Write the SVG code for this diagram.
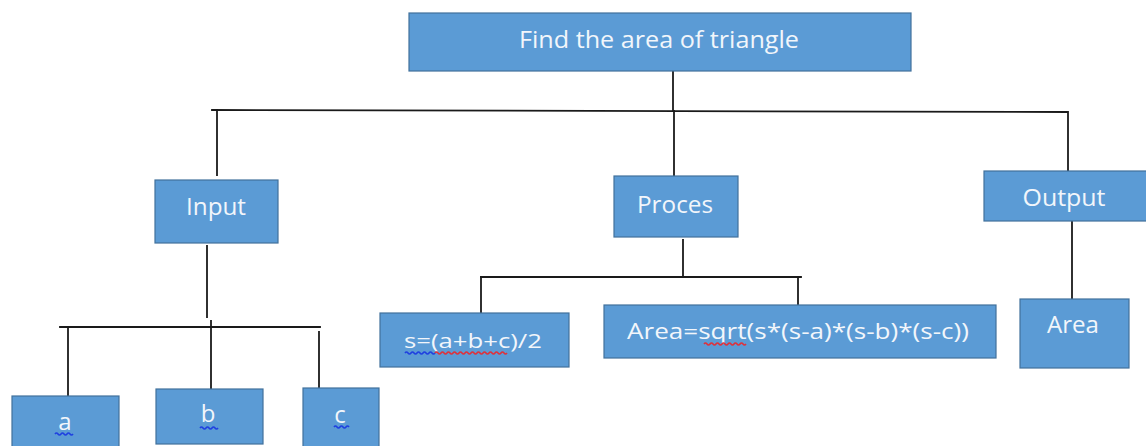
<svg xmlns="http://www.w3.org/2000/svg" width="1146" height="446" viewBox="0 0 1146 446">
  <style>
    .box { fill: #5b9bd5; stroke: #41719c; stroke-width: 1.2; }
    .lbl { fill: #f2f6fb; font-family: "Open Sans", "Liberation Sans", sans-serif; text-anchor: middle; }
    .wire { stroke: #1a1a1a; stroke-width: 1.8; fill: none; stroke-linecap: square; }
    .squig-b { stroke: #1f3fe0; stroke-width: 1.6; fill: none; }
    .squig-r { stroke: #e0303a; stroke-width: 1.6; fill: none; }
  </style>

  <!-- tree connectors -->
  <g id="connectors">
    <line class="wire" x1="673" y1="71" x2="673" y2="111"/>
    <line class="wire" x1="212" y1="110" x2="1067" y2="112"/>
    <line class="wire" x1="217" y1="110" x2="217" y2="175"/>
    <line class="wire" x1="674" y1="111" x2="674" y2="186"/>
    <line class="wire" x1="1068" y1="112" x2="1068" y2="180"/>

    <line class="wire" x1="207" y1="246" x2="207" y2="317"/>
    <line class="wire" x1="60" y1="327" x2="320" y2="327"/>
    <line class="wire" x1="68" y1="327" x2="68" y2="401"/>
    <line class="wire" x1="211" y1="321" x2="211" y2="391"/>
    <line class="wire" x1="319" y1="332" x2="319" y2="388"/>

    <line class="wire" x1="683" y1="240" x2="683" y2="276"/>
    <line class="wire" x1="481" y1="277" x2="801" y2="277"/>
    <line class="wire" x1="481" y1="277" x2="481" y2="322"/>
    <line class="wire" x1="798" y1="277" x2="798" y2="304"/>

    <line class="wire" x1="1072" y1="221" x2="1072" y2="305"/>
  </g>

  <g id="node-root">
    <rect class="box" x="409" y="13" width="502" height="58"/>
    <text class="lbl" x="659" y="48" font-size="23" textLength="280" lengthAdjust="spacingAndGlyphs">Find the area of triangle</text>
  </g>

  <g id="node-input">
    <rect class="box" x="155" y="180" width="123" height="63"/>
    <text class="lbl" x="216" y="215" font-size="23" textLength="60" lengthAdjust="spacingAndGlyphs">Input</text>
  </g>

  <g id="node-proces">
    <rect class="box" x="614" y="176" width="124" height="61"/>
    <text class="lbl" x="675" y="213" font-size="23" textLength="76" lengthAdjust="spacingAndGlyphs">Proces</text>
  </g>

  <g id="node-output">
    <rect class="box" x="984" y="171" width="164" height="50"/>
    <text class="lbl" x="1064" y="206" font-size="23" textLength="83" lengthAdjust="spacingAndGlyphs">Output</text>
  </g>

  <g id="node-a">
    <rect class="box" x="12" y="396" width="107" height="56"/>
    <text class="lbl" x="65" y="430" font-size="24">a</text>
    <path class="squig-b" d="M55 434 q1.5 -2 3 0 t3 0 t3 0 t3 0 t3 0 t3 0"/>
  </g>

  <g id="node-b">
    <rect class="box" x="156" y="389" width="107" height="55"/>
    <text class="lbl" x="208" y="422" font-size="24">b</text>
    <path class="squig-b" d="M200 428 q1.5 -2 3 0 t3 0 t3 0 t3 0 t3 0 t3 0"/>
  </g>

  <g id="node-c">
    <rect class="box" x="303" y="388" width="76" height="62"/>
    <text class="lbl" x="340" y="423" font-size="24">c</text>
    <path class="squig-b" d="M334 427 q1.5 -2 3 0 t3 0 t3 0 t3 0 t3 0"/>
  </g>

  <g id="node-semi">
    <rect class="box" x="380" y="313" width="189" height="54"/>
    <text class="lbl" x="473" y="348" font-size="20" textLength="138" lengthAdjust="spacingAndGlyphs">s=(a+b+c)/2</text>
    <path class="squig-b" d="M405 353 q1.5 -2 3 0 t3 0 t3 0 t3 0 t3 0 t3 0 t3 0 t3 0 t3 0 t3 0"/>
    <path class="squig-r" d="M435 353 q1.5 -2 3 0 t3 0 t3 0 t3 0 t3 0 t3 0 t3 0 t3 0 t3 0 t3 0 t3 0 t3 0 t3 0 t3 0 t3 0 t3 0 t3 0 t3 0 t3 0 t3 0 t3 0 t3 0 t3 0 t3 0"/>
  </g>

  <g id="node-area-formula">
    <rect class="box" x="604" y="305" width="392" height="53"/>
    <text class="lbl" x="798" y="339" font-size="21" textLength="342" lengthAdjust="spacingAndGlyphs">Area=sqrt(s*(s-a)*(s-b)*(s-c))</text>
    <path class="squig-r" d="M704 344 q1.5 -2 3 0 t3 0 t3 0 t3 0 t3 0 t3 0 t3 0 t3 0 t3 0 t3 0 t3 0 t3 0 t3 0 t3 0"/>
  </g>

  <g id="node-area">
    <rect class="box" x="1020" y="299" width="109" height="69"/>
    <text class="lbl" x="1073" y="333" font-size="23" textLength="52" lengthAdjust="spacingAndGlyphs">Area</text>
  </g>
</svg>
